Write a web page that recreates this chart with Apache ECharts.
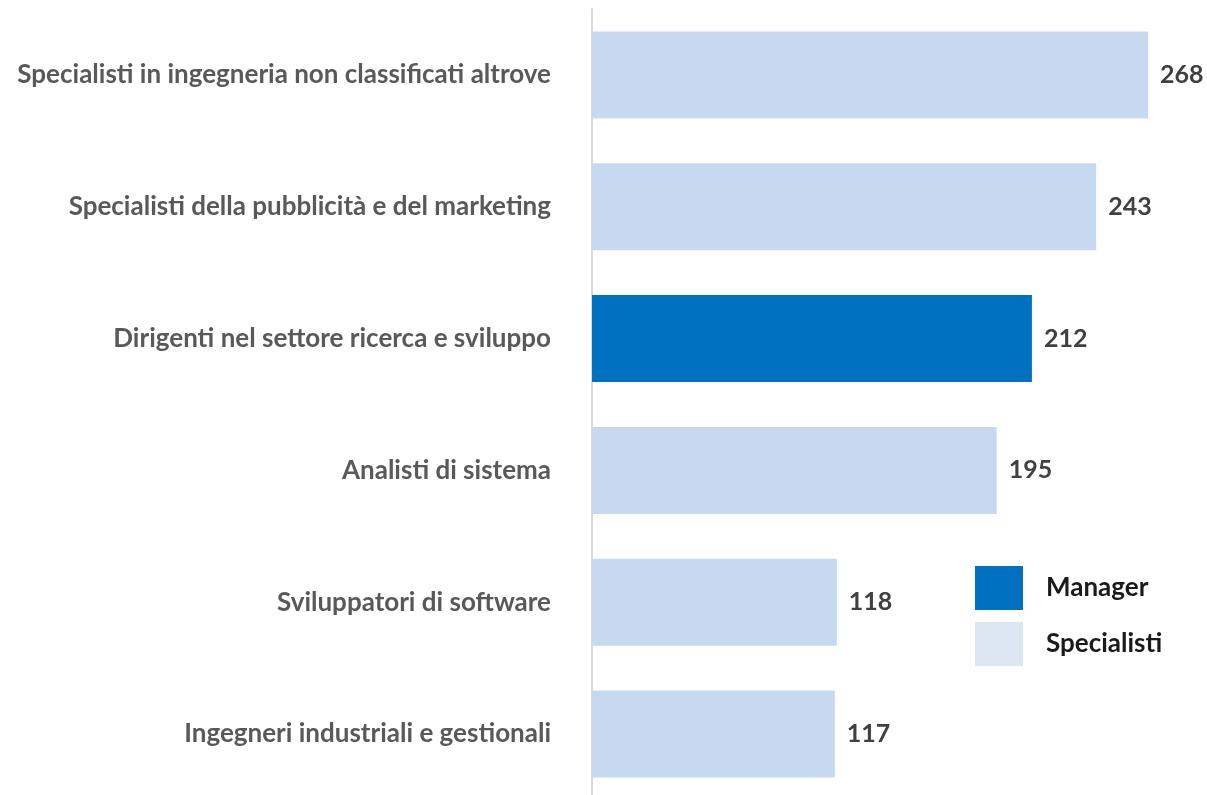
<!DOCTYPE html>
<html>
<head>
<meta charset="utf-8">
<script src="https://cdn.jsdelivr.net/npm/echarts@6/dist/echarts.min.js"></script>
<style>
  html, body { margin: 0; padding: 0; background: #fff; }
  #chart { width: 1207px; height: 795px; }
</style>
</head>
<body>
<div id="chart"></div>
<script>
// categorie (dall'alto in basso)
var categories = [
  "Specialisti in ingegneria non classificati altrove",
  "Specialisti della pubblicità e del marketing",
  "Dirigenti nel settore ricerca e sviluppo",
  "Analisti di sistema",
  "Sviluppatori di software",
  "Ingegneri industriali e gestionali"
];
var managerValues = [null, null, 212, null, null, null];
var specialistiValues = [268, 243, null, 195, 118, 117];

var myChart = echarts.init(document.getElementById("chart"));

var valueLabel = {
  show: true,
  position: "right",
  distance: 12,
  color: "#404040",
  fontFamily: "Lato",
  fontWeight: "bold",
  fontSize: 25
};

myChart.setOption({
  animation: false,
  backgroundColor: "#fff",
  grid: {
    left: 592,
    top: 9,
    width: 581,
    height: 791,
    outerBoundsMode: "none",
    containLabel: false
  },
  legend: {
    orient: "vertical",
    left: 975,
    top: 566,
    padding: 0,
    itemWidth: 48,
    itemHeight: 44,
    itemGap: 12,
    icon: "rect",
    textStyle: {
      color: "#1a1a1a",
      fontFamily: "Lato",
      fontWeight: "bold",
      fontSize: 26,
      padding: [0, 0, 0, 18]
    },
    data: [
      { name: "Manager", itemStyle: { color: "#0070C0" } },
      { name: "Specialisti", itemStyle: { color: "#DCE6F2" } }
    ]
  },
  xAxis: {
    type: "value",
    min: 0,
    max: 280,
    show: false
  },
  yAxis: {
    type: "category",
    inverse: true,
    data: categories,
    axisTick: { show: false },
    axisLine: {
      show: true,
      lineStyle: { color: "#d9d9d9", width: 2 }
    },
    axisLabel: {
      margin: 41,
      color: "#595959",
      fontFamily: "Lato",
      fontWeight: "bold",
      fontSize: 26
    }
  },
  series: [
    {
      name: "Manager",
      type: "bar",
      stack: "tot",
      barWidth: "66%",
      data: managerValues,
      itemStyle: { color: "#0070C0" },
      label: valueLabel
    },
    {
      name: "Specialisti",
      type: "bar",
      stack: "tot",
      barWidth: "66%",
      data: specialistiValues,
      itemStyle: { color: "#C6D9F0" },
      label: valueLabel
    }
  ]
});
</script>
</body>
</html>
